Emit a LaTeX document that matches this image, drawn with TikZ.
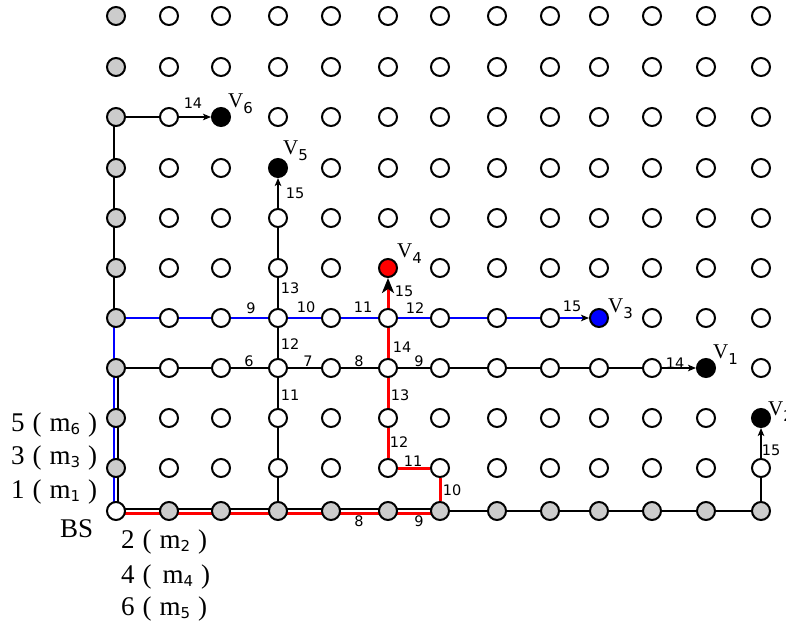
\documentclass[tikz,border=0pt]{standalone}
\usepackage{fontspec}
\setmainfont{Liberation Serif}
\newfontfamily\lblfont{DejaVu Sans}
\usetikzlibrary{arrows.meta,backgrounds}
\definecolor{ngray}{HTML}{CCCCCC}
\expandafter\def\csname fc-2-2\endcsname{black}
\expandafter\def\csname fc-3-3\endcsname{black}
\expandafter\def\csname fc-11-7\endcsname{black}
\expandafter\def\csname fc-12-8\endcsname{black}
\expandafter\def\csname fc-5-5\endcsname{red}
\expandafter\def\csname fc-9-6\endcsname{blue}
\newcommand\vsub[1]{\raisebox{-6pt}{\lblfont\fontsize{15}{15}\selectfont#1}}
\newcommand\msub[1]{\raisebox{-3pt}{\lblfont\fontsize{15}{15}\selectfont#1}}
\newcommand\gapsp{\hspace{8pt}}
\begin{document}
\begin{tikzpicture}[x=1pt,y=-1pt,
  pt/.style={circle,draw=black,line width=2pt,minimum size=18pt,inner sep=0pt},
  el/.style={font=\lblfont\fontsize{14.5}{14.5}\selectfont,inner sep=0pt},
  vl/.style={font=\fontsize{21}{21}\selectfont,inner sep=0pt,anchor=base west},
  ml/.style={font=\fontsize{27}{27}\selectfont,inner sep=0pt,anchor=base west},
  bl/.style={draw=black,line width=1.5pt},
  blu/.style={draw=blue,line width=1.5pt},
  rd/.style={draw=red,line width=3pt},
  tip/.style={-{Stealth[length=8pt,width=6.5pt,inset=2pt,color=black]}},
  bigtip/.style={-{Stealth[length=15pt,width=12pt,inset=4pt,color=black]}}]
\useasboundingbox (0,0) rectangle (786,628);
% grid of nodes
\foreach \x [count=\i from 0] in {116,169,221,278,331,388,440,497,550,599,652,706,761}{
  \foreach \y [count=\j from 0] in {16,67,117,168,218,268,318,368,418,468,511}{
    \def\fc{white}
    \ifnum\j<10 \ifnum\i=0 \def\fc{ngray}\fi\fi
    \ifnum\j=10 \ifnum\i>0 \def\fc{ngray}\fi\fi
    \ifcsname fc-\i-\j\endcsname \edef\fc{\csname fc-\i-\j\endcsname}\fi
    \node[pt,fill=\fc] (n-\i-\j) at (\x,\y) {};
  }
}
% connectors
\begin{scope}[on background layer]
  \draw[bl] ([xshift=-2pt]n-0-2.center) -- ([xshift=-2pt]n-0-7.center);
  \draw[bl] ([xshift=2pt]n-0-7.center) -- ([xshift=2pt]n-0-10.center);
  \draw[bl] ([yshift=2pt]n-0-10.center) -- ([yshift=2pt]n-6-10.center);
  \draw[bl] (n-6-10) -- (n-12-10);
  \draw[bl] (n-12-10) -- (n-12-9);
  \draw[bl,tip] (n-12-9) -- (n-12-8);
  \draw[bl,tip] (n-0-2) -- (n-2-2);
  \draw[bl,tip] (n-0-7) -- (n-11-7);
  \draw[bl,tip] (n-3-10) -- (n-3-3);
  \draw[blu] ([xshift=-2pt]n-0-10.center) -- ([xshift=-2pt]n-0-6.center) -- (n-0-6.center);
  \draw[blu,tip] (n-0-6) -- (n-9-6);
  \draw[rd] ([yshift=-2pt]n-0-10.center) -- ([yshift=-2pt]n-6-10.center);
  \draw[rd] (n-6-10) -- (n-6-9);
  \draw[rd] (n-6-9) -- (n-5-9);
  \draw[rd,bigtip] (n-5-9) -- (n-5-5);
\end{scope}
% node labels
\node[vl] (lv6) at (228,108) {V\vsub{6}};
\node[vl] (lv5) at (283,155) {V\vsub{5}};
\node[vl] (lv4) at (397,257) {V\vsub{4}};
\node[vl] (lv3) at (608,312) {V\vsub{3}};
\node[vl] (lv1) at (713,358) {V\vsub{1}};
\node[vl] (lv2) at (768,415) {V\vsub{2}};
\node[ml] (m6) at (11,431) {5\gapsp(\gapsp m\msub{6}\gapsp)};
\node[ml] (m3) at (11,464) {3\gapsp(\gapsp m\msub{3}\gapsp)};
\node[ml] (m1) at (11,498) {1\gapsp(\gapsp m\msub{1}\gapsp)};
\node[ml] (bs) at (60,537) {BS};
\node[ml] (m2) at (121,548) {2\gapsp(\gapsp m\msub{2}\gapsp)};
\node[ml] (m4) at (121,583) {4\gapsp(\hspace{11pt}m\msub{4}\gapsp)};
\node[ml] (m5) at (121,615) {6\gapsp(\gapsp m\msub{5}\gapsp)};
% edge labels
\node[el] (e1) at (193,103) {14};
\node[el] (e2) at (295,193) {15};
\node[el] (e3) at (290,288) {13};
\node[el] (e4) at (251,308) {9};
\node[el] (e5) at (306,307) {10};
\node[el] (e6) at (363,307) {11};
\node[el] (e7) at (290,344) {12};
\node[el] (e8) at (249,361) {6};
\node[el] (e9) at (308,361) {7};
\node[el] (e10) at (359,361) {8};
\node[el] (e11) at (290,395) {11};
\node[el] (e12) at (404,291) {15};
\node[el] (e13) at (415,308) {12};
\node[el] (e14) at (402,347) {14};
\node[el] (e15) at (419,361) {9};
\node[el] (e16) at (572,306) {15};
\node[el] (e17) at (675,363) {14};
\node[el] (e18) at (400,395) {13};
\node[el] (e19) at (399,442) {12};
\node[el] (e20) at (413,461) {11};
\node[el] (e21) at (452,490) {10};
\node[el] (e22) at (359,521) {8};
\node[el] (e23) at (419,521) {9};
\node[el] (e24) at (771,450) {15};
\end{tikzpicture}
\end{document}
